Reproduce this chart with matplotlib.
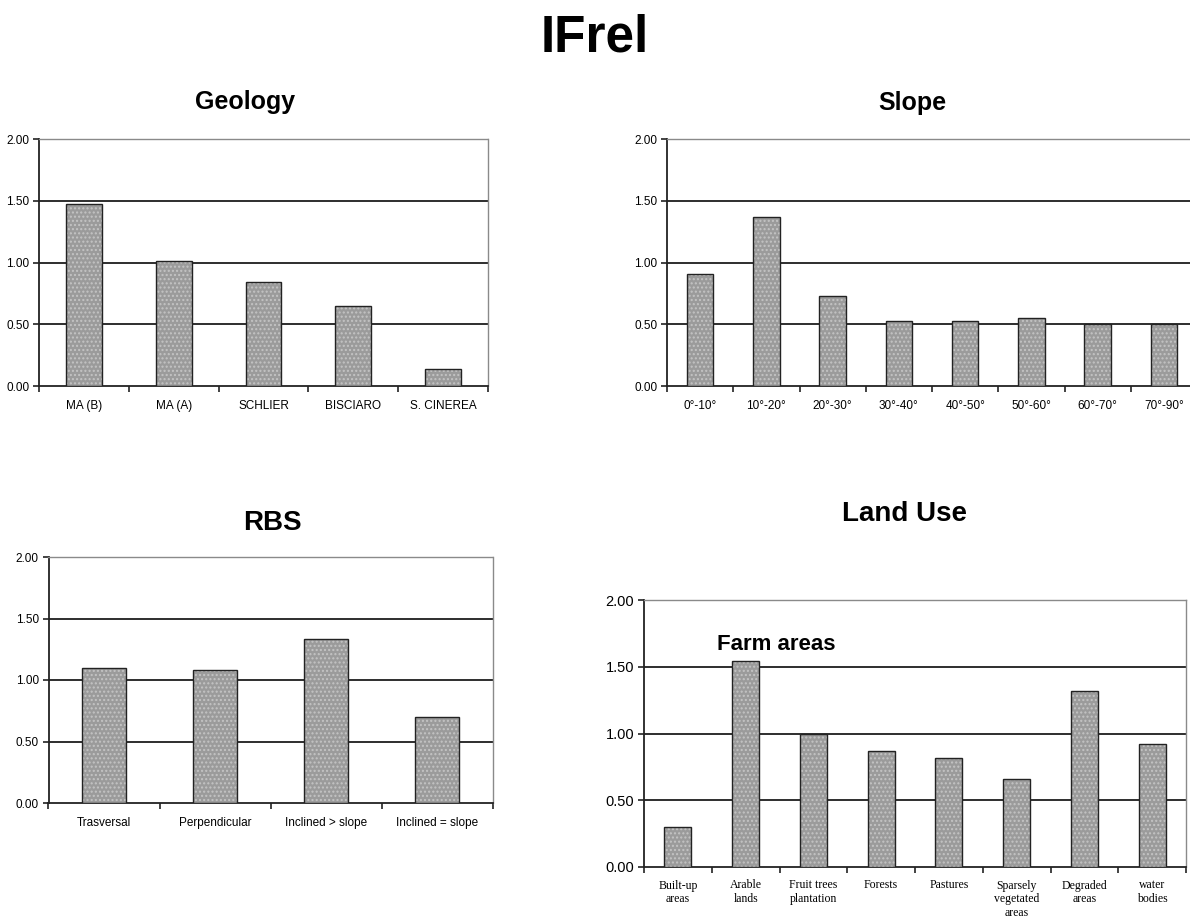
import numpy as np
import matplotlib.pyplot as plt

plt.rcParams['font.family'] = ['Liberation Sans', 'DejaVu Sans']

# data
geo_labels = ['MA (B)', 'MA (A)', 'SCHLIER', 'BISCIARO', 'S. CINEREA']
geo_vals = [1.47, 1.01, 0.84, 0.65, 0.14]

slope_labels = ['0°-10°', '10°-20°', '20°-30°', '30°-40°', '40°-50°', '50°-60°', '60°-70°', '70°-90°']
slope_vals = [0.91, 1.37, 0.73, 0.53, 0.53, 0.55, 0.50, 0.50]

rbs_labels = ['Trasversal', 'Perpendicular', 'Inclined > slope', 'Inclined = slope']
rbs_vals = [1.10, 1.08, 1.33, 0.70]

land_labels = ['Built-up\nareas', 'Arable\nlands', 'Fruit trees\nplantation', 'Forests', 'Pastures',
               'Sparsely\nvegetated\nareas', 'Degraded\nareas', 'water\nbodies']
land_vals = [0.30, 1.54, 1.00, 0.87, 0.82, 0.66, 1.32, 0.92]

yticks = [0.0, 0.5, 1.0, 1.5, 2.0]

W, H = 1190, 919
fig = plt.figure(figsize=(W / 100, H / 100), dpi=100)


def px_axes(left, right, top, bottom):
    return fig.add_axes([left / W, 1 - bottom / H, (right - left) / W, (bottom - top) / H])


def bar_panel(ax, labels, vals, ysize=8.5, xsize=8.5, xfamily=None):
    x = np.arange(len(vals))
    # dotted fill, then the dark outline on top
    ax.bar(x, vals, width=0.4, color='#9b9b9b', edgecolor='#c4c4c4', hatch='....', linewidth=0, zorder=3)
    ax.bar(x, vals, width=0.4, fill=False, edgecolor='#222222', linewidth=1.0, zorder=4)
    ax.set_xlim(-0.5, len(vals) - 0.5)
    ax.set_ylim(0, 2.0)
    ax.set_yticks(yticks)
    ax.set_yticklabels(['%.2f' % v for v in yticks], fontsize=ysize)
    for g in [0.5, 1.0, 1.5]:
        ax.axhline(g, color='#2e2e2e', linewidth=1.4, zorder=1)
    ax.set_xticks(np.arange(len(vals) + 1) - 0.5)
    ax.set_xticklabels([])
    ax.set_xticks(x, minor=True)
    ax.set_xticklabels(labels, minor=True, fontsize=xsize, family=xfamily)
    ax.tick_params(axis='x', which='minor', length=0, pad=10)
    ax.tick_params(axis='x', which='major', length=4, width=1.2, direction='out', color='#222222')
    ax.tick_params(axis='y', length=4, width=1.2, direction='out', color='#222222', pad=3)
    for s in ['left', 'bottom']:
        ax.spines[s].set_color('#222222')
        ax.spines[s].set_linewidth(1.3)
    for s in ['top', 'right']:
        ax.spines[s].set_color('#8a8a8a')
        ax.spines[s].set_linewidth(1.0)
        ax.spines[s].set_linestyle((0, (2, 1)))


ax1 = px_axes(39, 488, 139, 386)
bar_panel(ax1, geo_labels, geo_vals)

ax2 = px_axes(667, 1197, 139, 386)
bar_panel(ax2, slope_labels, slope_vals)

ax3 = px_axes(48.5, 492.5, 557, 803)
bar_panel(ax3, rbs_labels, rbs_vals)

ax4 = px_axes(644, 1186, 600, 867)
bar_panel(ax4, land_labels, land_vals, ysize=10.5, xsize=8.5,
          xfamily=['Liberation Serif', 'DejaVu Serif'])
for lab in ax4.get_xticklabels(minor=True):
    lab.set_verticalalignment('top')
    lab.set_linespacing(1.2)
ax4.tick_params(axis='x', which='minor', pad=9)
ax4.text(0.58, 1.665, 'Farm areas', fontsize=16, fontweight='bold', ha='left', va='center', zorder=5)

# titles
fig.text(595 / W, 1 - 51 / H, 'IFrel', fontsize=37, fontweight='bold', ha='center', va='baseline')
fig.text(245 / W, 1 - 109 / H, 'Geology', fontsize=18, fontweight='bold', ha='center', va='baseline')
fig.text(912 / W, 1 - 110 / H, 'Slope', fontsize=18, fontweight='bold', ha='center', va='baseline')
fig.text(272 / W, 1 - 530 / H, 'RBS', fontsize=20, fontweight='bold', ha='center', va='baseline')
fig.text(904 / W, 1 - 521 / H, 'Land Use', fontsize=20, fontweight='bold', ha='center', va='baseline')

fig.savefig('out.png', dpi=100)
